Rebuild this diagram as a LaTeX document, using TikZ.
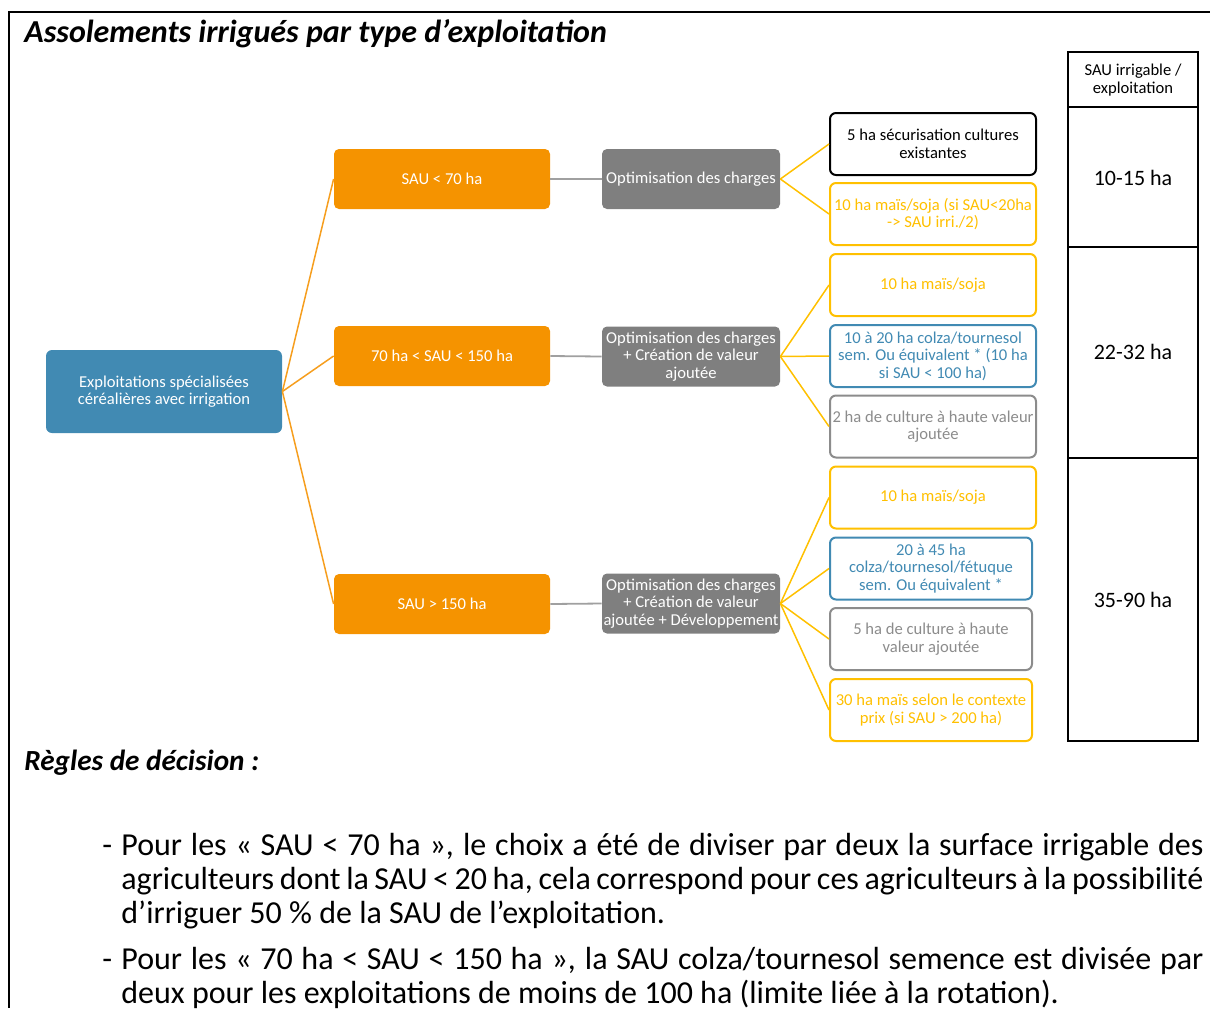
\documentclass[tikz,border=0pt]{standalone}
\usepackage{fontspec}
\setmainfont{Carlito}
\definecolor{steel}{RGB}{65,138,179}
\definecolor{amber}{RGB}{245,147,0}
\definecolor{trunkcol}{RGB}{246,158,30}
\definecolor{slate}{RGB}{127,127,127}
\definecolor{gold}{RGB}{255,192,0}
\definecolor{leafgray}{RGB}{140,140,140}
\definecolor{linkgray}{RGB}{160,160,160}
% a justified line of the decision rules, spread to the text width
\newcommand\fullline[1]{\makebox[541pt][s]{\spaceskip=0.226em plus 1em minus 0.15em\relax #1}}
\begin{document}
\begin{tikzpicture}[x=0.5pt,y=-0.5pt,
  small/.style={font=\fontsize{8.3}{8.8}\selectfont},
  rootbox/.style={small, fill=steel, text=white, rounded corners=3pt, inner sep=0pt, align=center,
    minimum width=118pt, minimum height=41.5pt},
  sizebox/.style={small, fill=amber, text=white, rounded corners=2.5pt, inner sep=0pt, align=center,
    minimum width=108pt, minimum height=30pt},
  aimbox/.style={small, fill=slate, text=white, rounded corners=2.5pt, inner sep=0pt, align=center,
    minimum width=89pt, minimum height=30pt},
  leaf/.style={small, fill=white, draw=#1, text=#1, line width=1pt, rounded corners=3pt, inner sep=0pt,
    align=center, minimum width=103pt, minimum height=31pt},
  leafn/.style={leaf=#1, minimum width=101pt},
  trunk/.style={draw=trunkcol, line width=0.75pt},
  twig/.style={draw=gold, line width=0.75pt},
  link/.style={draw=linkgray, line width=0.9pt},
  heading/.style={font=\fontsize{16}{19}\selectfont\bfseries\itshape, inner sep=0pt, anchor=west},
  subheading/.style={font=\fontsize{14.6}{17}\selectfont\bfseries\itshape, inner sep=0pt, anchor=west},
  bodyline/.style={font=\fontsize{16}{17}\selectfont, inner sep=0pt, anchor=base west},
  figure/.style={font=\fontsize{11}{13}\selectfont, inner sep=0pt}
]
\useasboundingbox (0,0) rectangle (1210,1008);

% frame around the figure (open to the right and bottom)
\draw[line width=1pt] (1210,12) -- (9,12) -- (9,1008);

% headings
\node[heading] (title) at (24,34) {Assolements irrigués par type d’exploitation};
\node[subheading] (rules) at (24,763) {Règles de décision :};

% root
\node[rootbox] (root) at (164,391.5) {Exploitations spécialisées\\céréalières avec irrigation};

% farm size classes
\node[sizebox] (s1) at (442,179) {SAU < 70 ha};
\node[sizebox] (s2) at (442,356) {70 ha < SAU < 150 ha};
\node[sizebox] (s3) at (442,604) {SAU > 150 ha};

% strategies
\node[aimbox] (a1) at (691,179) {Optimisation des charges};
\node[aimbox] (a2) at (691,356.5) {Optimisation des charges\\+ Création de valeur\\ajoutée};
\node[aimbox] (a3) at (691,603.5) {Optimisation des charges\\+ Création de valeur\\ajoutée + Développement};

% irrigated crops
\node[leaf=black] (c11) at (933,144) {5 ha sécurisation cultures\\existantes};
\node[leaf=gold] (c12) at (933,214) {10 ha maïs/soja (si SAU<20ha\\-> SAU irri./2)};
\node[leaf=gold] (c21) at (933,285) {10 ha maïs/soja};
\node[leaf=steel] (c22) at (933,356) {10 à 20 ha colza/tournesol\\sem. Ou équivalent * (10 ha\\si SAU < 100 ha)};
\node[leaf=leafgray] (c23) at (933,426.5) {2 ha de culture à haute valeur\\ajoutée};
\node[leaf=gold] (c31) at (933,497.5) {10 ha maïs/soja};
\node[leafn=steel] (c32) at (931,568.5) {20 à 45 ha\\colza/tournesol/fétuque\\sem. Ou équivalent *};
\node[leafn=leafgray] (c33) at (931,639) {5 ha de culture à haute\\valeur ajoutée};
\node[leafn=gold] (c34) at (931,710) {30 ha maïs selon le contexte\\prix (si SAU > 200 ha)};

% connectors
\foreach \s in {s1,s2,s3} \draw[trunk] (root.east) -- (\s.west);
\draw[link] (s1.east) -- (a1.west);
\draw[link] (s2.east) -- (a2.west);
\draw[link] (s3.east) -- (a3.west);
\foreach \c in {c11,c12} \draw[twig] (a1.east) -- (\c.west);
\foreach \c in {c21,c22,c23} \draw[twig] (a2.east) -- (\c.west);
\foreach \c in {c31,c32,c33,c34} \draw[twig] (a3.east) -- (\c.west);

% table of irrigable area per farm
\draw[line width=1pt] (1068,52) rectangle (1198,741);
\draw[line width=1pt] (1068,107) -- (1198,107);
\draw[line width=1pt] (1068,247) -- (1198,247);
\draw[line width=1pt] (1068,458) -- (1198,458);
\node[small, align=center, inner sep=0pt] (th) at (1133,80) {SAU irrigable /\\exploitation};
\node[figure] (t1) at (1133,178) {10-15 ha};
\node[figure] (t2) at (1133,352) {22-32 ha};
\node[figure] (t3) at (1133,600) {35-90 ha};

% decision rules
\node[bodyline] (d1) at (102,855) {-};
\node[bodyline] (l1) at (121,855) {\fullline{Pour les « SAU < 70 ha », le choix a été de diviser par deux la surface irrigable des}};
\node[bodyline] (l2) at (121,889) {\fullline{agriculteurs dont la SAU < 20 ha, cela correspond pour ces agriculteurs à la possibilité}};
\node[bodyline] (l3) at (121,923) {d’irriguer 50 \% de la SAU de l’exploitation.};
\node[bodyline] (d2) at (102,969) {-};
\node[bodyline] (l4) at (121,969) {\fullline{Pour les « 70 ha < SAU < 150 ha », la SAU colza/tournesol semence est divisée par}};
\node[bodyline] (l5) at (121,1003) {deux pour les exploitations de moins de 100 ha (limite liée à la rotation).};
\end{tikzpicture}
\end{document}
